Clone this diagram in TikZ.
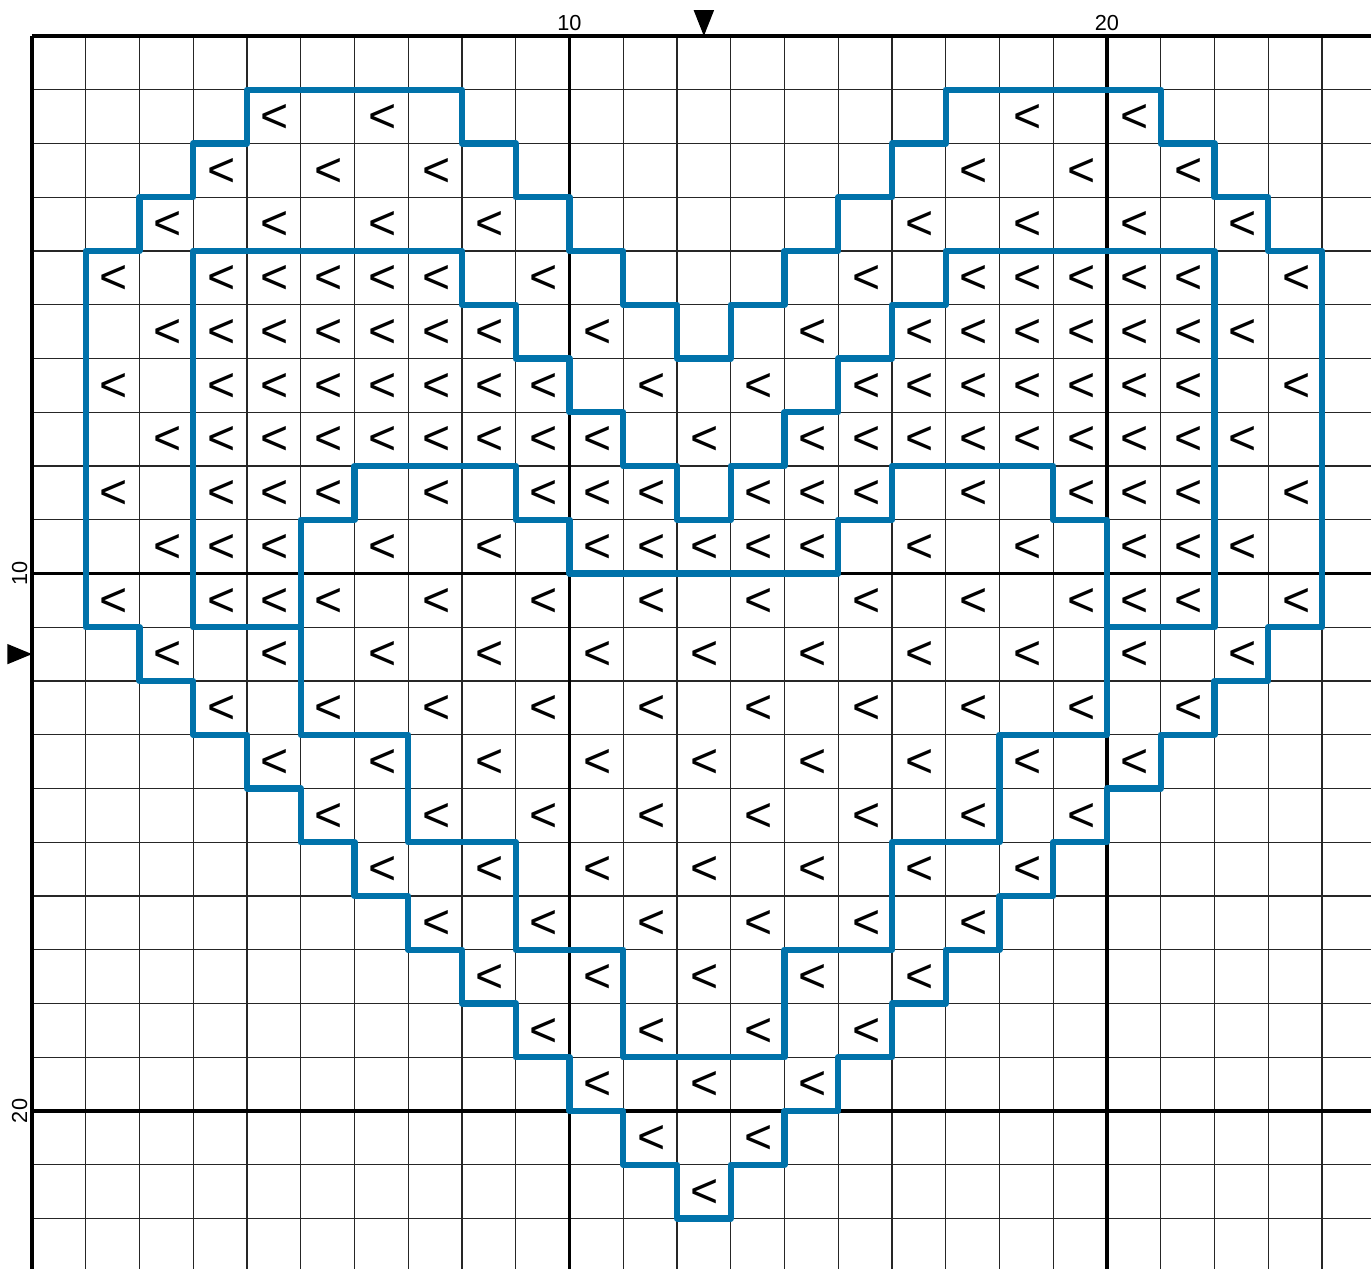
\documentclass[tikz,border=0pt]{standalone}
\usepackage{fontspec}
\setmainfont{Liberation Sans}
\definecolor{stitch}{RGB}{0,114,170}
\begin{document}
\begin{tikzpicture}[x=1cm,y=-1cm,
  minor/.style={black!85,line width=0.65pt},
  major/.style={black,line width=1.6pt},
  outline/.style={stitch,line width=3.4pt,line join=round,line cap=round},
  sym/.style={inner sep=0pt,font=\fontsize{25.5}{25.5}\selectfont},
  lab/.style={inner sep=0pt,font=\fontsize{11.5}{11.5}\selectfont},
  marker/.style={fill=black,draw=none}]
\useasboundingbox (-0.5953,-0.6698) rectangle (24.912,22.94);
% grid
\foreach \i in {1,...,24} \draw[minor] (\i,0) -- (\i,22.94);
\foreach \j in {1,...,22} \draw[minor] (0,\j) -- (24.912,\j);
\foreach \i in {0,10,20} \draw[major] (\i,0) -- (\i,22.94);
\foreach \j in {0,10,20} \draw[major] (0,\j) -- (24.912,\j);
% labels
\node[lab] (t10) at (10,-0.25) {10};
\node[lab] (t20) at (20,-0.25) {20};
\node[lab,rotate=90] (l10) at (-0.23,10) {10};
\node[lab,rotate=90] (l20) at (-0.23,20) {20};
% centre markers
\fill[marker] (12.5,0) -- (12.31,-0.48) -- (12.69,-0.48) -- cycle;
\fill[marker] (0,11.5) -- (-0.46,11.31) -- (-0.46,11.69) -- cycle;
% symbols
\foreach \r/\cols in {
  1/{4,6,18,20},
  2/{3,5,7,17,19,21},
  3/{2,4,6,8,16,18,20,22},
  4/{1,3,4,5,6,7,9,15,17,18,19,20,21,23},
  5/{2,3,4,5,6,7,8,10,14,16,17,18,19,20,21,22},
  6/{1,3,4,5,6,7,8,9,11,13,15,16,17,18,19,20,21,23},
  7/{2,3,4,5,6,7,8,9,10,12,14,15,16,17,18,19,20,21,22},
  8/{1,3,4,5,7,9,10,11,13,14,15,17,19,20,21,23},
  9/{2,3,4,6,8,10,11,12,13,14,16,18,20,21,22},
  10/{1,3,4,5,7,9,11,13,15,17,19,20,21,23},
  11/{2,4,6,8,10,12,14,16,18,20,22},
  12/{3,5,7,9,11,13,15,17,19,21},
  13/{4,6,8,10,12,14,16,18,20},
  14/{5,7,9,11,13,15,17,19},
  15/{6,8,10,12,14,16,18},
  16/{7,9,11,13,15,17},
  17/{8,10,12,14,16},
  18/{9,11,13,15},
  19/{10,12,14},
  20/{11,13},
  21/{12}}{
  \foreach \c in \cols {\node[sym] (s\r-\c) at (\c+0.52,\r+0.53) {<};}
}
% outlines
\draw[outline] (4,1) -- (8,1) -- (8,2) -- (9,2) -- (9,3) -- (10,3) -- (10,4) -- (11,4) -- (11,5) -- (12,5) -- (12,6) -- (13,6) -- (13,5) -- (14,5) -- (14,4) -- (15,4) -- (15,3) -- (16,3) -- (16,2) -- (17,2) -- (17,1) -- (21,1) -- (21,2) -- (22,2) -- (22,3) -- (23,3) -- (23,4) -- (24,4) -- (24,11) -- (23,11) -- (23,12) -- (22,12) -- (22,13) -- (21,13) -- (21,14) -- (20,14) -- (20,15) -- (19,15) -- (19,16) -- (18,16) -- (18,17) -- (17,17) -- (17,18) -- (16,18) -- (16,19) -- (15,19) -- (15,20) -- (14,20) -- (14,21) -- (13,21) -- (13,22) -- (12,22) -- (12,21) -- (11,21) -- (11,20) -- (10,20) -- (10,19) -- (9,19) -- (9,18) -- (8,18) -- (8,17) -- (7,17) -- (7,16) -- (6,16) -- (6,15) -- (5,15) -- (5,14) -- (4,14) -- (4,13) -- (3,13) -- (3,12) -- (2,12) -- (2,11) -- (1,11) -- (1,4) -- (2,4) -- (2,3) -- (3,3) -- (3,2) -- (4,2) -- cycle;
\draw[outline] (3,4) -- (8,4) -- (8,5) -- (9,5) -- (9,6) -- (10,6) -- (10,7) -- (11,7) -- (11,8) -- (12,8) -- (12,9) -- (13,9) -- (13,8) -- (14,8) -- (14,7) -- (15,7) -- (15,6) -- (16,6) -- (16,5) -- (17,5) -- (17,4) -- (22,4) -- (22,11) -- (20,11) -- (20,13) -- (18,13) -- (18,15) -- (16,15) -- (16,17) -- (14,17) -- (14,19) -- (11,19) -- (11,17) -- (9,17) -- (9,15) -- (7,15) -- (7,13) -- (5,13) -- (5,11) -- (3,11) -- cycle;
\draw[outline] (5,11) -- (5,9) -- (6,9) -- (6,8) -- (9,8) -- (9,9) -- (10,9) -- (10,10) -- (15,10) -- (15,9) -- (16,9) -- (16,8) -- (19,8) -- (19,9) -- (20,9) -- (20,11);
\end{tikzpicture}
\end{document}
